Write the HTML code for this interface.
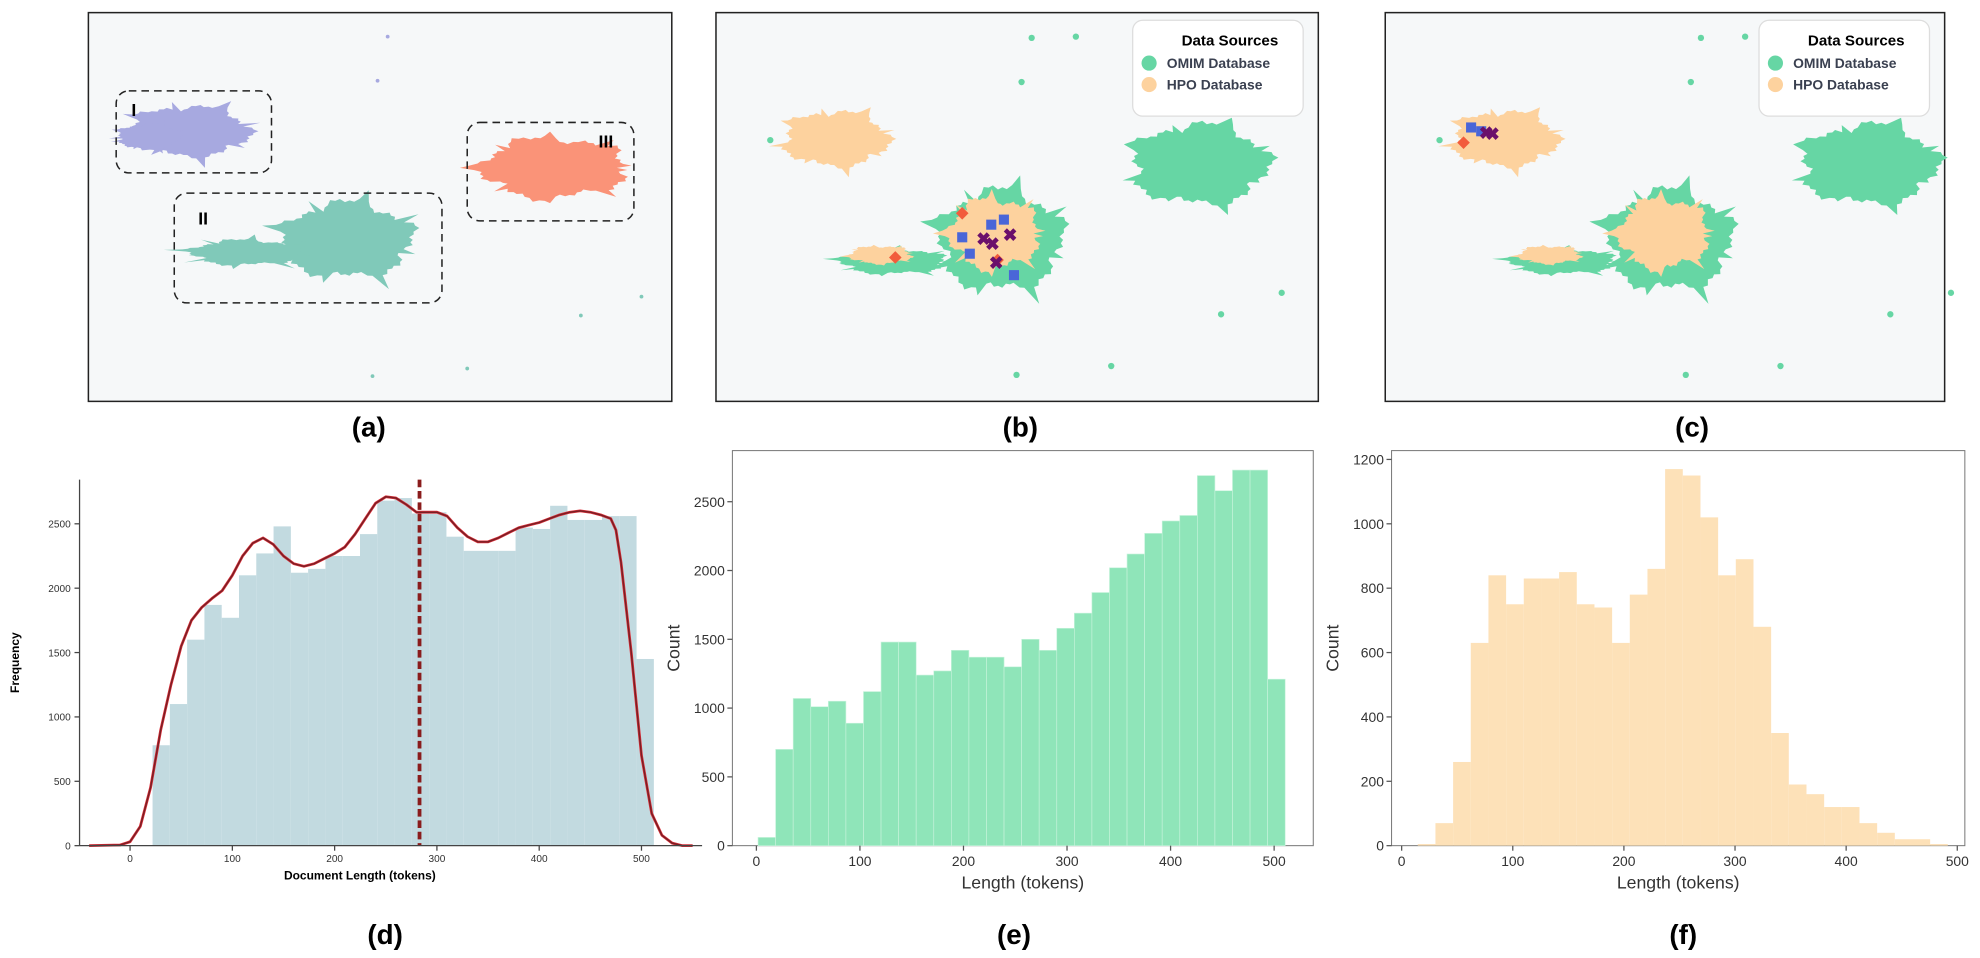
<!DOCTYPE html>
<html><head><meta charset="utf-8"><style>
html,body{margin:0;padding:0;background:#fff;}
svg{display:block;font-family:"Liberation Sans",Arial,sans-serif;}
</style></head><body>
<svg id="fig" width="1980" height="958" viewBox="0 0 1568 759" preserveAspectRatio="none" xmlns="http://www.w3.org/2000/svg">
<g id="topg"></g>
<g id="pd"></g><g id="pe"></g><g id="pf"></g>
<text x="292" y="346" font-size="22" font-weight="bold" text-anchor="middle">(a)</text>
<text x="808" y="346" font-size="22" font-weight="bold" text-anchor="middle">(b)</text>
<text x="1340" y="346" font-size="22" font-weight="bold" text-anchor="middle">(c)</text>
<text x="305" y="748" font-size="22" font-weight="bold" text-anchor="middle">(d)</text>
<text x="803" y="748" font-size="22" font-weight="bold" text-anchor="middle">(e)</text>
<text x="1333" y="748" font-size="22" font-weight="bold" text-anchor="middle">(f)</text>
</svg>
<script>
// ---- chart data ----
const dBinStart = 22;
const dBinWidth = 16.9;
const dCounts = [780,1100,1600,1870,1770,2100,2270,2480,2120,2150,2250,2250,2420,2680,2700,2580,2590,2400,2290,2290,2290,2470,2460,2640,2530,2530,2560,2560,1450];
const dKdeX = [-40,-10,0,10,20,30,40,50,60,70,80,90,100,110,120,130,140,150,160,170,180,190,200,210,220,230,240,250,260,270,280,290,300,310,320,330,340,350,360,370,380,390,400,410,420,430,440,450,460,470,475,480,490,500,510,520,530,540,550];
const dKdeY = [0,5,30,150,450,900,1250,1550,1750,1850,1920,1980,2100,2250,2350,2390,2340,2250,2190,2170,2190,2230,2270,2320,2420,2540,2660,2710,2700,2650,2590,2590,2590,2560,2470,2400,2360,2360,2390,2430,2470,2490,2510,2540,2570,2590,2600,2590,2570,2540,2450,2200,1500,700,250,80,20,0,0];
const dMean = 283;
const dYTicks = [0,500,1000,1500,2000,2500];
const dXTicks = [0,100,200,300,400,500];

const eBinStart = 1.6;
const eBinWidth = 16.97;
const eCounts = [60,700,1070,1010,1050,890,1120,1480,1480,1240,1270,1420,1370,1370,1300,1500,1420,1580,1690,1840,2020,2120,2270,2360,2400,2690,2580,2730,2730,1210];
const eYTicks = [0,500,1000,1500,2000,2500];
const eXTicks = [0,100,200,300,400,500];

const fBinStart = 14.5;
const fBinWidth = 15.9;
const fCounts = [5,70,260,630,840,750,830,830,850,750,740,630,780,860,1170,1150,1020,840,890,680,350,190,160,120,120,70,40,20,20,5];
const fYTicks = [0,200,400,600,800,1000,1200];
const fXTicks = [0,100,200,300,400,500];

const NS = "http://www.w3.org/2000/svg";
function mk(parent, tag, attrs, text){
  const el = document.createElementNS(NS, tag);
  for (const k in attrs) el.setAttribute(k, attrs[k]);
  if (text !== undefined) el.textContent = text;
  parent.appendChild(el);
  return el;
}

// ---- top scatter panels (decorative cluster shapes) ----
const topG = document.getElementById('topg');
function blob(g, cx, cy, rx, ry, seed, fill, spike, name){
  let pts = [];
  const N = 90;
  for (let i=0;i<N;i++){
    const t = i/N*Math.PI*2;
    let r = 1 + 0.1*Math.sin(5*t+seed) + 0.06*Math.sin(13*t+2*seed);
    if (((i*7+Math.round(seed*3))%11)===0) r += spike*0.7;
    if (i%2===1) r *= 0.95;
    pts.push((cx+Math.cos(t)*rx*r).toFixed(1)+','+(cy+Math.sin(t)*ry*r).toFixed(1));
  }
  const p = mk(g,'polygon',{points:pts.join(' '),fill:fill});
  
  
  return p;
}
function frame(x,y,w,h,name){
  const r = mk(topG,'rect',{x:x,y:y,width:w,height:h,fill:'#f6f8f9',stroke:'#222','stroke-width':1.2});
  
  
}
function dot(g,x,y,r,fill){
  const c = mk(g,'circle',{cx:x,cy:y,r:r,fill:fill});
  
  
}
// panel a
frame(70,10,462,308,'panel-a-frame');
blob(topG,150,104,48,20,1,'#a7a9e0',0.45,'cluster-i');
blob(topG,118,108,25,10,2,'#a7a9e0',0.4,'cluster-i-arm');
blob(topG,275,190,52,30,3,'#80c9b9',0.45,'cluster-ii');
blob(topG,195,200,45,10,4,'#80c9b9',0.6,'cluster-ii-arm');
blob(topG,438,133,58,24,5,'#fa9378',0.3,'cluster-iii');
[[92,72,123,65,'box-i'],[138,153,212,87,'box-ii'],[370,97,132,78,'box-iii']].forEach(b=>{
  const r = mk(topG,'rect',{x:b[0],y:b[1],width:b[2],height:b[3],rx:10,fill:'none',stroke:'#222','stroke-width':1.2,'stroke-dasharray':'6,4'});
  
  
});
mk(topG,'text',{x:104,y:92,'font-size':14,'font-weight':'bold'},'I');
mk(topG,'text',{x:157,y:178,'font-size':14,'font-weight':'bold'},'II');
mk(topG,'text',{x:474,y:117,'font-size':14,'font-weight':'bold'},'III');
dot(topG,307,29,1.5,'#a7a9e0');dot(topG,299,64,1.5,'#a7a9e0');dot(topG,460,250,1.5,'#80c9b9');dot(topG,508,235,1.5,'#80c9b9');dot(topG,295,298,1.5,'#80c9b9');dot(topG,370,292,1.5,'#80c9b9');

function scatterPanel(ox, x0, w, name){
  frame(x0,10,w,308,name+'-frame');
  const G='#66d6a4', P='#fdd29e';
  blob(topG,ox+95,110,42,22,1,P,0.35,'hpo-cluster');
  blob(topG,ox+383,130,55,32,2,G,0.25,'omim-cluster');
  blob(topG,ox+225,190,50,40,3,G,0.4,'mixed-cluster-omim');
  blob(topG,ox+140,207,42,10,4,G,0.4,'mixed-cluster-arm');
  blob(topG,ox+220,185,36,28,5,P,0.4,'mixed-cluster-hpo');
  blob(topG,ox+130,202,25,7,6,P,0.3,'mixed-arm-hpo');
  dot(topG,ox+250,30,2.5,G);dot(topG,ox+285,29,2.5,G);dot(topG,ox+242,65,2.5,G);dot(topG,ox+400,249,2.5,G);dot(topG,ox+448,232,2.5,G);dot(topG,ox+238,297,2.5,G);dot(topG,ox+313,290,2.5,G);dot(topG,ox+43,111,2.5,G);
  const lx = x0+w-147;
  const lg = mk(topG,'rect',{x:lx,y:16,width:135,height:76,rx:8,fill:'#fff',stroke:'#ddd'});
  
  
  mk(topG,'text',{x:lx+77,y:36,'font-size':12,'font-weight':'bold','text-anchor':'middle'},'Data Sources');
  mk(topG,'circle',{cx:lx+13,cy:50,r:6,fill:G});
  mk(topG,'text',{x:lx+27,y:54,'font-size':11,'font-weight':'bold',fill:'#3a4050'},'OMIM Database');
  mk(topG,'circle',{cx:lx+13,cy:67,r:6,fill:P});
  mk(topG,'text',{x:lx+27,y:71,'font-size':11,'font-weight':'bold',fill:'#3a4050'},'HPO Database');
}
scatterPanel(567,567,477,'panel-b');
scatterPanel(1097,1097,443,'panel-c');
function sq(x,y){const r=mk(topG,'rect',{x:x-4,y:y-4,width:8,height:8,fill:'#4a66d8'});}
function dia(x,y){const r=mk(topG,'polygon',{points:`${x},${y-5} ${x+5},${y} ${x},${y+5} ${x-5},${y}`,fill:'#f25c3c'});}
function cross(x,y){const r=mk(topG,'text',{x:x,y:y+4,'font-size':14,'font-weight':'bold',fill:'#6b0f6b','text-anchor':'middle'},'✖');}
sq(762,188);sq(785,178);sq(795,174);sq(768,201);sq(803,218);dia(762,169);dia(709,204);dia(790,206);
cross(779,190);cross(786,194);cross(800,187);cross(789,209);
sq(1165,101);sq(1173,104);dia(1159,113);cross(1177,106);cross(1182,107);

// ---- histogram helpers ----
function axes(g, o){
  return {
    X: v => o.px0 + (v - o.xmin) * o.kx,
    Y: v => o.py0 - v * o.ky
  };
}

// ---- panel d ----
(function(){
  const g = document.getElementById('pd');
  const ax = axes(g,{px0:103,xmin:0,kx:(508-103)/500,py0:670,ky:(670-415)/2500});
  dCounts.forEach((c,i)=>{
    const x = ax.X(dBinStart+i*dBinWidth), x2 = ax.X(dBinStart+(i+1)*dBinWidth);
    const r = mk(g,'rect',{x:x,y:ax.Y(c),width:x2-x,height:670-ax.Y(c),fill:'#c2dae0'});
    
    
  });
  let d = dKdeX.map((v,i)=>(i?'L':'M')+ax.X(v).toFixed(1)+','+ax.Y(dKdeY[i]).toFixed(1)).join(' ');
  const k1 = mk(g,'path',{d:d,fill:'none',stroke:'#e0303a','stroke-width':2.2,'stroke-linejoin':'round'});
  
  
  const k = mk(g,'path',{d:d,fill:'none',stroke:'#7a1f25','stroke-width':1.2,'stroke-linejoin':'round'});
  
  
  const m = mk(g,'line',{x1:ax.X(dMean),x2:ax.X(dMean),y1:380,y2:670,stroke:'#8a1c1c','stroke-width':3,'stroke-dasharray':'6,3'});
  
  
  mk(g,'line',{x1:63,x2:63,y1:380,y2:670,stroke:'#444','stroke-width':1});
  mk(g,'line',{x1:63,x2:556,y1:670,y2:670,stroke:'#444','stroke-width':1});
  dYTicks.forEach(t=>{
    mk(g,'line',{x1:59,x2:63,y1:ax.Y(t),y2:ax.Y(t),stroke:'#444'});
    const l = mk(g,'text',{x:56,y:ax.Y(t)+3,'font-size':8,'text-anchor':'end',fill:'#333'},String(t));
    
    
  });
  dXTicks.forEach(t=>{
    mk(g,'line',{x1:ax.X(t),x2:ax.X(t),y1:670,y2:674,stroke:'#444'});
    const l = mk(g,'text',{x:ax.X(t),y:683,'font-size':8,'text-anchor':'middle',fill:'#333'},String(t));
    
    
  });
  const xl = mk(g,'text',{x:285,y:697,'font-size':9.5,'font-weight':'bold','text-anchor':'middle'},'Document Length (tokens)');
  
  
  const yl = mk(g,'text',{x:0,y:0,'font-size':9.5,'font-weight':'bold','text-anchor':'middle',transform:'translate(15,525) rotate(-90)'},'Frequency');
  
  
})();

// ---- panels e, f ----
const FT = 357;
function hist(id, counts, start, width, yT, xT, o, fill, edge, prefix){
  const g = document.getElementById(id);
  const ax = axes(g,o);
  mk(g,'rect',{x:o.fx0,y:FT,width:o.fx1-o.fx0,height:670-FT,fill:'#fff',stroke:'#777','stroke-width':0.8});
  counts.forEach((c,i)=>{
    const x = ax.X(start+i*width), x2 = ax.X(start+(i+1)*width);
    const r = mk(g,'rect',{x:x,y:ax.Y(c),width:x2-x,height:670-ax.Y(c),fill:fill,stroke:edge,'stroke-width':edge==='none'?0:0.5});
    
    
  });
  yT.forEach(t=>{
    mk(g,'line',{x1:o.fx0-4,x2:o.fx0,y1:ax.Y(t),y2:ax.Y(t),stroke:'#555'});
    const l = mk(g,'text',{x:o.fx0-6,y:ax.Y(t)+4,'font-size':11,'text-anchor':'end',fill:'#333'},String(t));
    
    
  });
  xT.forEach(t=>{
    mk(g,'line',{x1:ax.X(t),x2:ax.X(t),y1:670,y2:674,stroke:'#555'});
    const l = mk(g,'text',{x:ax.X(t),y:686,'font-size':11,'text-anchor':'middle',fill:'#333'},String(t));
    
    
  });
  const xl = mk(g,'text',{x:(o.fx0+o.fx1)/2,y:704,'font-size':14,'text-anchor':'middle',fill:'#333'},'Length (tokens)');
  
  
  const yl = mk(g,'text',{x:0,y:0,'font-size':14,'text-anchor':'middle',fill:'#333',transform:`translate(${o.fx0-42},${(FT+670)/2}) rotate(-90)`},'Count');
  
  
}
hist('pe', eCounts, eBinStart, eBinWidth, eYTicks, eXTicks,
  {px0:599,xmin:0,kx:(1009-599)/500,py0:670,ky:(670-397.5)/2500,fx0:580,fx1:1040}, '#8fe5b9', '#c8f3dc', 'e');
hist('pf', fCounts, fBinStart, fBinWidth, fYTicks, fXTicks,
  {px0:1110,xmin:0,kx:(1550-1110)/500,py0:670,ky:(670-364)/1200,fx0:1102,fx1:1556}, '#fde1b8', 'none', 'f');
</script>
</body></html>
